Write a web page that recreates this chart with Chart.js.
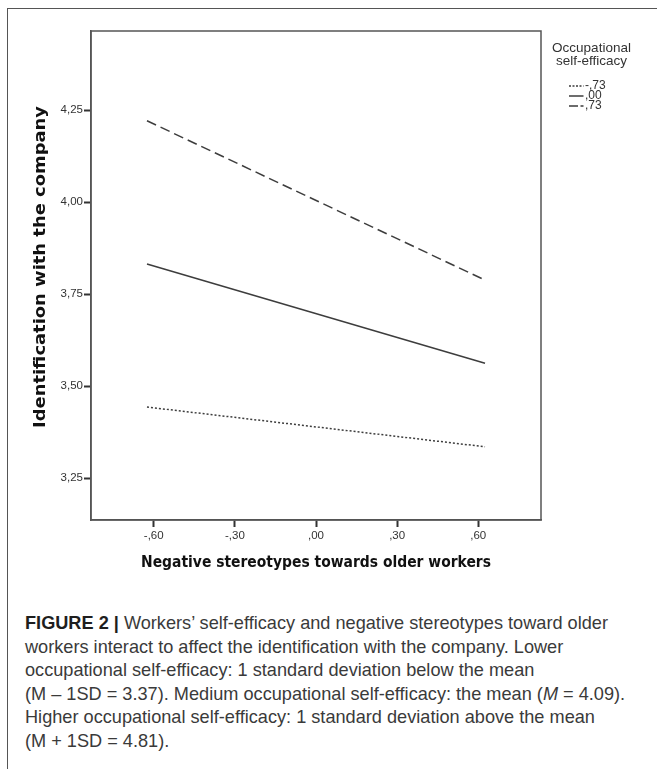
<!DOCTYPE html>
<html><head><meta charset="utf-8">
<script src="https://cdn.jsdelivr.net/npm/chart.js@4/dist/chart.umd.min.js"></script>
<style>
html,body{margin:0;padding:0;background:#fff;width:657px;height:771px;overflow:hidden}
#frame{position:absolute;left:7px;top:8px;width:700px;height:760px;border-left:1.5px solid #555;border-top:1.5px solid #555}
#wrap{position:absolute;left:0;top:0;width:657px;height:600px}
#caption{position:absolute;left:25px;top:612px;font-family:"Liberation Sans",Arial,sans-serif;color:#3a3a3a;line-height:23.5px;white-space:nowrap;font-size:18px}
#caption b{color:#1e1e1e}
</style></head><body>
<div id="frame"></div>
<div id="wrap"><canvas id="c"></canvas></div>
<div id="caption">
<div><span id="l1"><b>FIGURE 2 |</b> Workers’ self-efficacy and negative stereotypes toward older</span></div>
<div>workers interact to affect the identification with the company. Lower</div>
<div>occupational self-efficacy: 1 standard deviation below the mean</div>
<div>(M – 1SD = 3.37). Medium occupational self-efficacy: the mean (<i>M</i> = 4.09).</div>
<div>Higher occupational self-efficacy: 1 standard deviation above the mean</div>
<div>(M + 1SD = 4.81).</div>
</div>
<script>
// ---- data ----
const xValues = [-0.625, 0.625];
const seriesLabels = ['-,73', ',00', ',73'];
const lowSelfEfficacy = [3.443, 3.335];
const meanSelfEfficacy = [3.832, 3.562];
const highSelfEfficacy = [4.221, 3.788];
const xTickValues = [-0.6, -0.3, 0, 0.3, 0.6];
const yTickValues = [3.25, 3.5, 3.75, 4.0, 4.25];
const xTitle = 'Negative stereotypes towards older workers';
const yTitle = 'Identification with the company';
const legendTitle = ['Occupational', 'self-efficacy'];

function spss(v){
  const a = Math.abs(v).toFixed(2).replace(/^0/, '').replace('.', ',');
  return (v < -1e-9 ? '-' : '') + a;
}
function pts(ys){ return xValues.map((x,i)=>({x:x, y:ys[i]})); }

const lineColor = '#3d3d3d';
const dashes = [[2,2], [], [10,5]];
const legendDashes = [[2,1.5], [], [9,2.5]];
const seriesData = [lowSelfEfficacy, meanSelfEfficacy, highSelfEfficacy];

const datasets = seriesData.map((d,i)=>({
  label: seriesLabels[i], data: pts(d), borderColor: lineColor, borderWidth: 1.5,
  borderDash: dashes[i], pointRadius: 0, fill: false, tension: 0
}));

// draw bold title of a given pixel size, squeezed horizontally to the target width
function squeezedText(ctx, text, cx, cy, angle, size, target){
  ctx.save();
  ctx.font = 'bold ' + size + 'px "DejaVu Sans"';
  const w = ctx.measureText(text).width;
  ctx.translate(cx, cy); ctx.rotate(angle); ctx.scale(target / w, 1);
  ctx.fillText(text, 0, 0);
  ctx.restore();
}

const decor = {
  id: 'decor',
  afterDraw(chart){
    const ctx = chart.ctx, a = chart.chartArea;
    ctx.save();
    ctx.strokeStyle = '#555'; ctx.lineWidth = 1.5;
    ctx.strokeRect(a.left, a.top, a.right - a.left, a.bottom - a.top);
    // axis titles
    ctx.fillStyle = '#111';
    ctx.textAlign = 'center'; ctx.textBaseline = 'middle';
    squeezedText(ctx, xTitle, 316, 563, 0, 15.5, 350);
    squeezedText(ctx, yTitle, 41, 267, -Math.PI/2, 15, 322);
    // legend
    ctx.fillStyle = '#333';
    ctx.font = '13.5px "Liberation Sans"';
    ctx.fillText(legendTitle[0], 591.5, 48);
    ctx.fillText(legendTitle[1], 591.5, 61);
    ctx.textAlign = 'left';
    ctx.font = '12px "Liberation Sans"';
    chart.data.datasets.forEach((ds, i) => {
      const y = 86 + i * 10;
      ctx.beginPath(); ctx.setLineDash(legendDashes[i]); ctx.strokeStyle = lineColor; ctx.lineWidth = 1.5;
      ctx.moveTo(569, y); ctx.lineTo(583.5, y); ctx.stroke();
      ctx.setLineDash([]);
      ctx.fillText(ds.label, 585, y);
    });
    ctx.restore();
  }
};

const tickFont = {family: 'Liberation Sans', size: 11.5};
new Chart(document.getElementById('c'), {
  type: 'line',
  data: { datasets },
  options: {
    responsive: true, maintainAspectRatio: false, animation: false,
    layout: { padding: {top: 31, right: 116, left: 0, bottom: 0} },
    plugins: { legend: {display: false}, tooltip: {enabled: false} },
    scales: {
      x: {
        type: 'linear', min: -0.832, max: 0.832,
        afterBuildTicks: s => { s.ticks = xTickValues.map(v => ({value: v})); },
        afterFit: s => { s.height = 80; },
        ticks: { callback: v => spss(v), font: tickFont, color: '#333', padding: 2, maxRotation: 0, autoSkip: false },
        grid: { drawOnChartArea: false, drawTicks: true, tickLength: 7, tickWidth: 2, tickColor: '#333' },
        border: { display: true, color: '#555', width: 1.5 }
      },
      y: {
        type: 'linear', min: 3.136, max: 4.465,
        afterBuildTicks: s => { s.ticks = yTickValues.map(v => ({value: v})); },
        afterFit: s => { s.width = 91; },
        ticks: { callback: v => spss(v), font: tickFont, color: '#333', padding: 1, autoSkip: false },
        grid: { drawOnChartArea: false, drawTicks: true, tickLength: 7, tickWidth: 2, tickColor: '#333' },
        border: { display: true, color: '#555', width: 1.5 }
      }
    }
  },
  plugins: [decor]
});

// fit caption size to reference line width
(function(){
  const cap = document.getElementById('caption');
  const w = document.getElementById('l1').getBoundingClientRect().width;
  cap.style.fontSize = (18 * 583 / w).toFixed(2) + 'px';
})();
</script>
</body></html>
